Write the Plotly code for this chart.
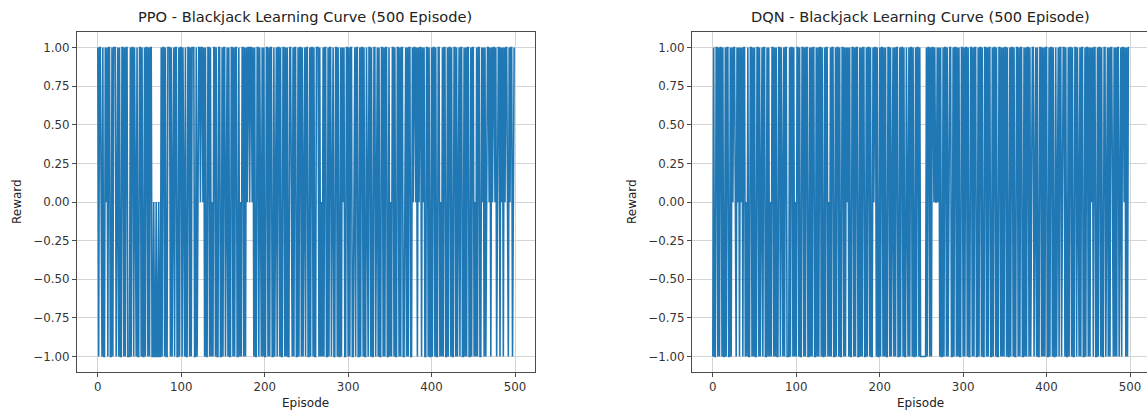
import plotly.graph_objects as go

# ---------------- data (estimated) ----------------
episode_ticks = [0, 100, 200, 300, 400, 500]
reward_ticks = [-1.0, -0.75, -0.5, -0.25, 0.0, 0.25, 0.5, 0.75, 1.0]

ppo_rewards = [
    1,-1,1,1,0,-1,1,-1,-1,1,0,1,-1,1,1,-1,-1,1,-1,1,1,1,-1,0,1,
    -1,1,-1,-1,1,1,-1,1,-1,1,1,-1,-1,-1,1,-1,1,1,-1,1,0,-1,1,-1,-1,
    1,1,-1,1,-1,-1,1,-1,1,1,-1,1,-1,1,1,-1,-1,0,-1,-1,0,-1,-1,0,-1,
    -1,1,-1,1,1,-1,1,-1,-1,1,1,1,-1,1,-1,0,1,-1,1,1,-1,-1,1,-1,1,
    1,-1,1,0,-1,1,-1,-1,1,1,-1,1,-1,1,1,1,-1,-1,1,-1,0,1,1,0,1,
    1,0,1,-1,1,-1,-1,1,1,-1,1,-1,0,-1,1,1,-1,1,-1,-1,1,1,-1,-1,1,
    -1,1,1,-1,0,1,-1,1,-1,-1,1,1,-1,1,-1,1,1,-1,-1,1,-1,0,-1,1,1,
    -1,1,-1,1,0,1,1,0,1,1,0,1,-1,1,-1,-1,1,1,-1,1,0,-1,1,-1,1,
    -1,-1,1,1,-1,1,-1,1,1,-1,-1,1,-1,0,1,-1,1,1,-1,1,-1,-1,1,1,-1,
    1,-1,1,-1,-1,1,1,0,-1,1,-1,1,1,-1,-1,1,-1,1,1,-1,1,-1,0,1,-1,
    1,1,-1,-1,1,-1,1,1,-1,1,-1,-1,1,1,1,-1,1,-1,0,-1,1,-1,1,1,-1,
    -1,1,-1,1,1,-1,0,1,-1,-1,1,1,-1,1,-1,-1,1,-1,1,0,1,-1,-1,1,1,
    -1,1,-1,1,1,-1,-1,0,1,-1,1,1,-1,-1,1,-1,1,1,-1,1,-1,-1,1,0,-1,
    1,1,-1,1,-1,-1,1,1,-1,0,1,-1,1,-1,-1,1,1,-1,1,-1,1,1,-1,-1,1,
    -1,0,-1,1,1,-1,1,-1,-1,1,1,-1,1,-1,1,1,-1,-1,0,1,-1,1,-1,1,1,
    -1,-1,1,0,1,1,0,1,-1,1,0,1,1,-1,1,0,1,-1,-1,1,1,-1,1,-1,-1,
    1,-1,1,1,-1,1,-1,-1,1,1,-1,0,-1,1,-1,1,1,-1,-1,1,-1,1,1,-1,1,
    -1,-1,1,1,-1,1,-1,0,1,-1,1,1,-1,-1,1,-1,1,-1,1,1,-1,-1,1,-1,1,
    1,-1,0,-1,1,-1,1,1,-1,-1,1,0,1,-1,1,-1,0,1,1,0,1,-1,1,0,1,
    1,0,1,-1,0,1,1,-1,1,0,1,-1,1,0,1,1,0,-1,1,0,1,1,-1,0,1,
]

dqn_rewards = [
    -1,1,-1,-1,1,1,-1,1,-1,1,1,-1,1,-1,-1,1,-1,1,1,-1,-1,1,-1,1,0,
    1,1,0,-1,1,0,1,-1,1,0,1,-1,1,1,-1,0,-1,1,-1,-1,1,1,-1,1,-1,
    1,-1,-1,1,1,-1,1,-1,0,1,-1,1,1,-1,-1,1,-1,1,-1,0,-1,1,1,-1,1,
    -1,1,-1,-1,1,1,-1,1,0,-1,1,-1,1,1,-1,-1,-1,1,-1,1,1,-1,1,-1,0,
    -1,1,1,-1,1,-1,-1,1,1,-1,1,-1,1,1,-1,-1,1,-1,1,-1,1,1,-1,-1,1,
    -1,1,-1,1,1,-1,1,-1,-1,1,-1,1,1,-1,0,-1,1,-1,1,1,-1,-1,1,-1,1,
    1,-1,1,-1,-1,1,1,-1,1,-1,1,0,1,-1,1,-1,-1,1,1,-1,1,-1,1,1,-1,
    -1,1,-1,1,-1,1,1,-1,-1,1,-1,1,1,-1,1,-1,-1,1,0,1,1,-1,1,-1,-1,
    1,-1,1,1,-1,1,-1,1,-1,-1,1,1,-1,1,-1,0,1,-1,1,-1,1,1,-1,-1,1,
    -1,1,1,-1,1,-1,-1,1,0,-1,1,-1,1,1,-1,1,-1,-1,1,-1,1,1,-1,1,-1,
    -1,-1,-1,-1,-1,-1,1,-1,1,1,-1,1,-1,1,1,0,1,0,0,1,0,1,-1,1,-1,
    -1,1,-1,1,1,-1,1,-1,0,1,1,-1,-1,1,-1,1,1,-1,1,-1,1,-1,-1,1,1,
    -1,1,-1,1,1,-1,1,-1,-1,1,1,-1,1,-1,1,1,-1,-1,1,-1,1,1,-1,1,-1,
    -1,1,1,-1,1,-1,1,1,-1,-1,1,-1,1,1,-1,1,-1,-1,1,1,-1,1,-1,1,-1,
    1,1,-1,1,-1,-1,1,-1,1,1,-1,1,-1,-1,1,1,-1,1,-1,1,1,-1,-1,1,-1,
    1,-1,1,1,-1,1,-1,0,1,1,-1,0,1,-1,1,-1,-1,1,1,-1,1,-1,1,-1,1,
    1,-1,-1,1,-1,1,1,-1,1,-1,-1,1,-1,0,1,-1,1,1,-1,0,1,1,-1,1,-1,
    -1,1,-1,1,1,-1,1,-1,-1,1,1,-1,1,0,-1,1,-1,1,1,-1,-1,1,-1,1,1,
    -1,1,-1,1,0,1,-1,1,1,-1,-1,1,-1,1,1,-1,1,-1,-1,1,1,-1,0,1,-1,
    1,-1,1,1,0,-1,1,-1,1,-1,1,1,-1,0,1,-1,1,1,0,1,-1,1,-1,1,1,
]

titles = ["PPO - Blackjack Learning Curve (500 Episode)",
          "DQN - Blackjack Learning Curve (500 Episode)"]

# ---------------- figure ----------------
W, H = 1147, 412
FONT = "DejaVu Sans"
LINE_BLUE = "#1f77b4"

def px_x(p):
    return p / W

def px_y(p):
    return 1 - p / H

y_dom = [px_y(372), px_y(32)]
left_dom = [px_x(77), px_x(535)]
right_dom = [px_x(692), 1.0]

fig = go.Figure()
fig.add_trace(go.Scatter(x=list(range(len(ppo_rewards))), y=ppo_rewards,
                         mode="lines", line=dict(color=LINE_BLUE, width=1.6),
                         xaxis="x", yaxis="y", showlegend=False))
fig.add_trace(go.Scatter(x=list(range(len(dqn_rewards))), y=dqn_rewards,
                         mode="lines", line=dict(color=LINE_BLUE, width=1.6),
                         xaxis="x2", yaxis="y2", showlegend=False))

axis_common = dict(showline=True, linecolor="#4a4a4a", linewidth=1,
                   ticks="outside", ticklen=4, tickcolor="#4a4a4a",
                   showgrid=True, gridcolor="#d4d4d4", gridwidth=1,
                   zeroline=False,
                   tickfont=dict(family=FONT, size=11.8, color="#333333"))

n_ppo = len(ppo_rewards)
pad = 0.05 * (n_ppo - 1)
left_range = [-pad, n_ppo - 1 + pad]
px_per_ep = (535 - 77) / (left_range[1] - left_range[0])
right_range = [-pad, -pad + (W - 692) / px_per_ep]

fig.update_layout(
    width=W, height=H,
    margin=dict(l=0, r=0, t=0, b=0),
    paper_bgcolor="white", plot_bgcolor="white",
    font=dict(family=FONT, color="#222222"),
    xaxis=dict(domain=left_dom, range=left_range, anchor="y",
               tickvals=episode_ticks, mirror=True, **axis_common),
    yaxis=dict(domain=y_dom, range=[-1.1, 1.1], anchor="x",
               tickvals=reward_ticks, tickformat=".2f", mirror=True, **axis_common),
    xaxis2=dict(domain=right_dom, range=right_range, anchor="y2",
                tickvals=episode_ticks, mirror=True, **axis_common),
    yaxis2=dict(domain=y_dom, range=[-1.1, 1.1], anchor="x2",
                tickvals=reward_ticks, tickformat=".2f", mirror=False, **axis_common),
)

annotations = []
for title, xc in [(titles[0], 305 / W), (titles[1], 920 / W)]:
    annotations.append(dict(text=title, xref="paper", yref="paper",
                            x=xc, y=px_y(17), xanchor="center", yanchor="middle",
                            showarrow=False, font=dict(family=FONT, size=14.6, color="#222222")))
for xc in [305 / W, 920 / W]:
    annotations.append(dict(text="Episode", xref="paper", yref="paper",
                            x=xc, y=px_y(403), xanchor="center", yanchor="middle",
                            showarrow=False, font=dict(family=FONT, size=12, color="#222222")))
for xl in [17 / W, 632 / W]:
    annotations.append(dict(text="Reward", xref="paper", yref="paper",
                            x=xl, y=px_y(202), xanchor="center", yanchor="middle",
                            textangle=-90, showarrow=False,
                            font=dict(family=FONT, size=12, color="#222222")))
fig.update_layout(annotations=annotations)

fig.write_html("out.html", config={"displayModeBar": False})

# remove the browser's default body margin so the figure sits at the page origin
with open("out.html", "r", encoding="utf-8") as fh:
    html = fh.read()
html = html.replace("<head>", "<head><style>html,body{margin:0;padding:0;overflow:hidden;}</style>", 1)
with open("out.html", "w", encoding="utf-8") as fh:
    fh.write(html)
